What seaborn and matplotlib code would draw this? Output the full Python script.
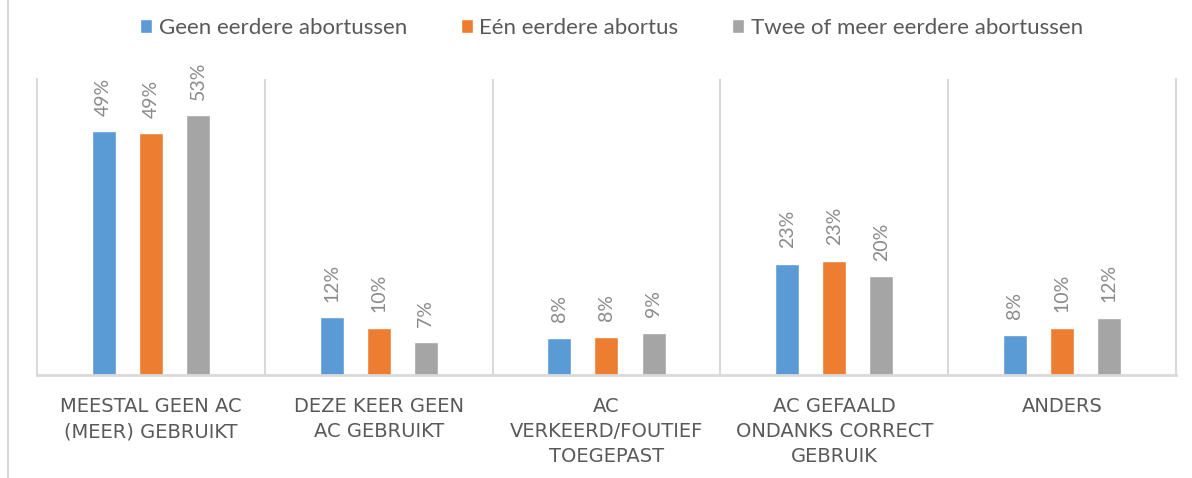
import pandas as pd
import matplotlib
matplotlib.use("Agg")
import matplotlib.pyplot as plt
import seaborn as sns
from matplotlib.patches import Patch
from matplotlib.lines import Line2D
from matplotlib.font_manager import FontProperties

# categories (x axis) and the three series
categories = [
    "MEESTAL GEEN AC\n(MEER) GEBRUIKT",
    "DEZE KEER GEEN\nAC GEBRUIKT",
    "AC\nVERKEERD/FOUTIEF\nTOEGEPAST",
    "AC GEFAALD\nONDANKS CORRECT\nGEBRUIK",
    "ANDERS",
]
series = ["Geen eerdere abortussen", "Eén eerdere abortus", "Twee of meer eerdere abortussen"]
geen = [0.494, 0.117, 0.076, 0.226, 0.082]
een = [0.491, 0.096, 0.078, 0.232, 0.096]
twee = [0.527, 0.067, 0.086, 0.200, 0.116]
colors = ["#5B9BD5", "#ED7D31", "#A5A5A5"]

df = pd.DataFrame({
    "categorie": categories * 3,
    "groep": [series[0]] * 5 + [series[1]] * 5 + [series[2]] * 5,
    "aandeel": geen + een + twee,
})

sns.set_style("white")
plt.rcParams["font.family"] = ["Lato", "DejaVu Sans"]

fig = plt.figure(figsize=(11.92, 4.78), dpi=100)
ax = fig.add_axes([0.031, 0.2155, 0.9555, 0.6192])

sns.barplot(data=df, x="categorie", y="aandeel", hue="groep", palette=colors,
            width=0.62, gap=0.49, ax=ax, legend=False, saturation=1)

for cont in ax.containers:
    ax.bar_label(cont, fmt="{:.0%}", rotation=90, padding=11, fontsize=14,
                 color="#8A8A8A")

ax.set_ylim(0, 0.6)
ax.set_xlim(-0.5, 4.5)
ax.set_xlabel("")
ax.set_ylabel("")
ax.set_yticks([])
ax.set_xticks(range(len(categories)))
cat_font = FontProperties(family="DejaVu Sans", size=14)
ax.set_xticklabels(categories, fontproperties=cat_font, color="#595959",
                   linespacing=1.39, va="top")
ax.tick_params(axis="x", length=0, pad=16)

# separators between categories
for x in [0.5, 1.5, 2.5, 3.5]:
    ax.axvline(x, color="#D9D9D9", lw=1.5, zorder=0)
ax.spines["top"].set_visible(False)
for side in ["left", "right", "bottom"]:
    ax.spines[side].set_color("#D9D9D9")
    ax.spines[side].set_linewidth(1.5)
ax.spines["bottom"].set_linewidth(2)

handles = [Patch(facecolor=c) for c in colors]
fig.legend(handles, series, loc="center", bbox_to_anchor=(0.513, 0.942), ncol=3,
           frameon=False, fontsize=16, handlelength=0.55, handleheight=0.65,
           handletextpad=0.3, columnspacing=2.4, labelcolor="#595959")

# chart area border on the left
fig.add_artist(Line2D([0.0065, 0.0065], [0, 1], color="#D9D9D9", lw=1.5))

fig.savefig("out.png", dpi=100)
